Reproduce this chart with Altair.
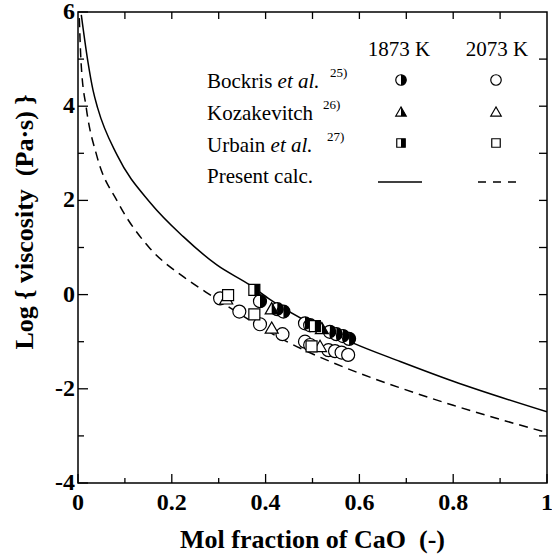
import altair as alt
import pandas as pd

# ---------------- data ----------------
# Present calculation curves
calc_1873_x = [0.007, 0.021, 0.032, 0.042, 0.084, 0.155, 0.2245, 0.296, 0.367, 0.409, 0.587, 0.687, 0.80, 1.0]
calc_1873_y = [5.94, 4.95, 4.34, 3.96, 2.95, 1.94, 1.23, 0.63, 0.20, -0.10, -1.03, -1.42, -1.84, -2.49]
calc_2073_x = [0.0028, 0.0064, 0.018, 0.040, 0.085, 0.1535, 0.2245, 0.288, 0.438, 0.573, 0.687, 0.80, 1.0]
calc_2073_y = [5.87, 4.95, 3.94, 2.95, 1.96, 0.98, 0.38, -0.045, -0.96, -1.565, -1.98, -2.35, -2.93]

# Experimental data
bockris_1873_x = [0.388, 0.425, 0.438, 0.484, 0.495, 0.537, 0.551, 0.565, 0.578]
bockris_1873_y = [-0.14, -0.31, -0.36, -0.61, -0.65, -0.79, -0.84, -0.88, -0.94]
kozak_1873_x = [0.413, 0.520]
kozak_1873_y = [-0.29, -0.71]
urbain_1873_x = [0.376, 0.505]
urbain_1873_y = [0.10, -0.67]

bockris_2073_x = [0.303, 0.344, 0.388, 0.436, 0.484, 0.495, 0.534, 0.548, 0.562, 0.576]
bockris_2073_y = [-0.08, -0.36, -0.63, -0.84, -1.00, -1.07, -1.18, -1.20, -1.23, -1.28]
kozak_2073_x = [0.316, 0.413, 0.516]
kozak_2073_y = [-0.08, -0.70, -1.09]
urbain_2073_x = [0.320, 0.376, 0.498]
urbain_2073_y = [-0.01, -0.42, -1.10]

# Tick values and tick labels
x_major = [0, 0.2, 0.4, 0.6, 0.8, 1]
x_major_labels = ["0", "0.2", "0.4", "0.6", "0.8", "1"]
x_minor = [0.1, 0.3, 0.5, 0.7, 0.9]
x_top = [0.1, 0.2, 0.3, 0.4, 0.5, 0.6, 0.7, 0.8, 0.9]
y_major = [-4, -2, 0, 2, 4, 6]
y_major_labels = ["-4", "-2", "0", "2", "4", "6"]
y_minor = [-3, -1, 1, 3, 5]
y_right = [-3, -2, -1, 0, 1, 2, 3, 4, 5]

x_title = "Mol fraction of CaO\u00a0\u00a0(-)"
y_title = "Log { viscosity\u00a0\u00a0(Pa\u00b7s) }"

legend_headers = ["1873 K", "2073 K"]
legend_names = ["Bockris ", "Kozakevitch", "Urbain "]
legend_etal = ["et al.", "", "et al."]
legend_refs = ["25)", "26)", "27)"]
legend_calc = "Present calc."

# ---------------- styling ----------------
TFONT = "'Liberation Serif', 'Times New Roman', 'DejaVu Serif', serif"
W, H = 469, 471
XS = alt.Scale(domain=[0, 1], nice=False, zero=False)
YS = alt.Scale(domain=[-4, 6], nice=False, zero=False)

HALF_CIRCLE = "M0,-1C0.5523,-1,1,-0.5523,1,0C1,0.5523,0.5523,1,0,1Z"
HALF_TRI = "M0,-0.866L1,0.866L0,0.866Z"
HALF_SQ = "M0,-1L1,-1L1,1L0,1Z"

# tick glyphs: a stroke of length sqrt(size) pointing into the plot
TICK_UP = "M0,0L0,-2"
TICK_DOWN = "M0,0L0,2"
TICK_RIGHT = "M0,0L2,0"
TICK_LEFT = "M0,0L-2,0"


def XE():
    return alt.X("x:Q", scale=XS, axis=None)


def YE():
    return alt.Y("y:Q", scale=YS, axis=None)


def df(xs, ys):
    return pd.DataFrame({"x": xs, "y": ys})


layers = []
layers.append(alt.Chart(df(calc_1873_x, calc_1873_y)).mark_line(
    color="black", strokeWidth=1.5, interpolate="monotone", clip=True).encode(x=XE(), y=YE()))
layers.append(alt.Chart(df(calc_2073_x, calc_2073_y)).mark_line(
    color="black", strokeWidth=1.5, strokeDash=[9, 6], interpolate="monotone", clip=True).encode(
    x=XE(), y=YE()))


# inward tick marks along the frame (positions from the tick lists through the scales)
def xticks(values, ypix, glyph, length):
    return alt.Chart(pd.DataFrame({"x": values})).mark_point(
        shape=glyph, size=length * length, filled=False, stroke="black", strokeWidth=1.3,
        opacity=1).encode(x=XE(), y=alt.value(ypix))


def yticks(values, xpix, glyph, length):
    return alt.Chart(pd.DataFrame({"y": values})).mark_point(
        shape=glyph, size=length * length, filled=False, stroke="black", strokeWidth=1.3,
        opacity=1).encode(y=YE(), x=alt.value(xpix))


layers += [
    xticks(x_major, H, TICK_UP, 9),
    xticks(x_minor, H, TICK_UP, 5),
    xticks(x_top, 0, TICK_DOWN, 7),
    yticks(y_major, 0, TICK_RIGHT, 10),
    yticks(y_minor, 0, TICK_RIGHT, 6),
    yticks(y_right, W, TICK_LEFT, 8),
]

# tick labels
layers.append(alt.Chart(pd.DataFrame({"x": x_major, "t": x_major_labels})).mark_text(
    font=TFONT, fontSize=24, fontWeight="bold", color="black", align="center", baseline="top").encode(
    x=XE(), y=alt.value(H + 8), text="t:N"))
layers.append(alt.Chart(pd.DataFrame({"y": y_major, "t": y_major_labels})).mark_text(
    font=TFONT, fontSize=24, fontWeight="bold", color="black", align="right", baseline="middle").encode(
    y=YE(), x=alt.value(-3), text="t:N"))

sets = [
    (bockris_2073_x, bockris_2073_y, "circle", 169, None),
    (kozak_2073_x, kozak_2073_y, "triangle-up", 169, None),
    (urbain_2073_x, urbain_2073_y, "square", 121, None),
    (bockris_1873_x, bockris_1873_y, "circle", 169, HALF_CIRCLE),
    (kozak_1873_x, kozak_1873_y, "triangle-up", 169, HALF_TRI),
    (urbain_1873_x, urbain_1873_y, "square", 121, HALF_SQ),
]
for xs, ys, shape, size, half in sets:
    d = df(xs, ys)
    layers.append(alt.Chart(d).mark_point(shape=shape, size=size, filled=True, fill="white",
                                          stroke="black", strokeWidth=1.2, opacity=1).encode(
        x=XE(), y=YE()))
    if half:
        layers.append(alt.Chart(d).mark_point(shape=half, size=size, filled=True, fill="black",
                                              strokeWidth=0, opacity=1).encode(x=XE(), y=YE()))

# ---------------- titles and legend (annotation) ----------------
one = pd.DataFrame({"k": [0]})


def txt(s, x, y, size=21, style="normal", align="left", weight="normal", angle=0,
        baseline="alphabetic"):
    return alt.Chart(one).mark_text(text=s, font=TFONT, fontSize=size, fontStyle=style,
                                    fontWeight=weight, color="black", angle=angle,
                                    align=align, baseline=baseline).encode(
        x=alt.value(x), y=alt.value(y))


layers.append(txt(x_title, W / 2, H + 65, size=26, weight="bold", align="center"))
layers.append(txt(y_title, -53, 210, size=26, weight="bold", align="center", angle=270,
                  baseline="middle"))

layers.append(txt(legend_headers[0], 321, 44, align="center"))
layers.append(txt(legend_headers[1], 419, 44, align="center"))

row_base = [76, 108, 140]
etal_x = [199.6, 0, 192.6]
ref_x = [252, 245, 249]
sym_y = [68, 99.5, 131]
shapes = [("circle", HALF_CIRCLE, 110), ("triangle-up", HALF_TRI, 110), ("square", HALF_SQ, 72)]
for i in range(3):
    layers.append(txt(legend_names[i], 129, row_base[i]))
    if legend_etal[i]:
        layers.append(txt(legend_etal[i], etal_x[i], row_base[i], style="italic"))
    layers.append(txt(legend_refs[i], ref_x[i], row_base[i] - 11, size=13))
    shp, half, sz = shapes[i]
    for cx in (323, 418):
        layers.append(alt.Chart(one).mark_point(shape=shp, size=sz, filled=True, fill="white",
                                                stroke="black", strokeWidth=1.2, opacity=1).encode(
            x=alt.value(cx), y=alt.value(sym_y[i])))
    layers.append(alt.Chart(one).mark_point(shape=half, size=sz, filled=True, fill="black",
                                            strokeWidth=0, opacity=1).encode(
        x=alt.value(323), y=alt.value(sym_y[i])))

layers.append(txt(legend_calc, 129, 171))
layers.append(alt.Chart(one).mark_rule(color="black", strokeWidth=1.5).encode(
    x=alt.value(300), x2=alt.value(344), y=alt.value(170)))
layers.append(alt.Chart(one).mark_rule(color="black", strokeWidth=1.5, strokeDash=[8, 7]).encode(
    x=alt.value(400), x2=alt.value(442), y=alt.value(170)))

chart = alt.layer(*layers).properties(
    width=W, height=H,
    autosize=alt.AutoSizeParams(type="none"),
    padding={"left": 78, "top": 12, "right": 5, "bottom": 71},
    background="white",
).configure_view(stroke="black", strokeWidth=1.5)

chart.save("out.html", embed_options={"renderer": "svg", "actions": False})
